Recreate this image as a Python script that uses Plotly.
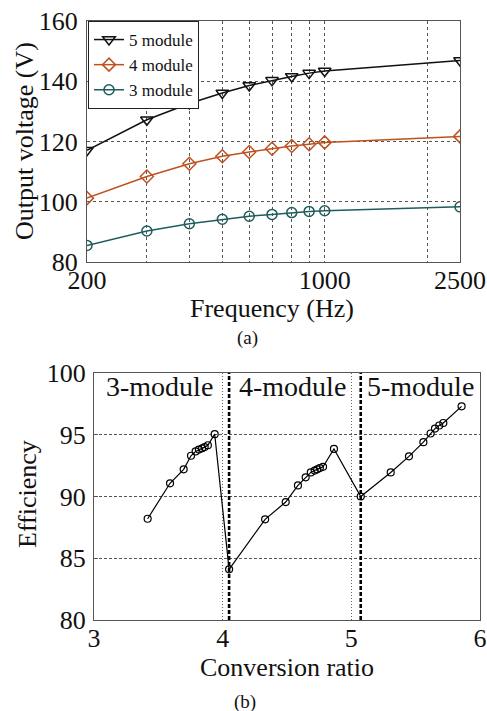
import math
import plotly.graph_objects as go

# ---- Top chart (a) data ----
freq = [200, 300, 400, 500, 600, 700, 800, 900, 1000, 2500]
v5 = [117.1, 127.2, 132.6, 136.1, 138.6, 140.3, 141.6, 142.7, 143.4, 146.9]
v4 = [101.2, 108.4, 112.6, 115.1, 116.5, 117.6, 118.5, 119.1, 119.7, 121.7]
v3 = [85.5, 90.3, 92.7, 94.2, 95.2, 95.8, 96.4, 96.8, 97.0, 98.3]
freq_ticks = [200, 1000, 2500]
freq_grid = [300, 400, 500, 600, 700, 800, 900, 2000]
volt_ticks = [80, 100, 120, 140, 160]

# ---- Bottom chart (b) data ----
ratio = [3.417, 3.591, 3.697, 3.754, 3.79, 3.815, 3.84, 3.86, 3.885, 3.938,
         4.05, 4.33, 4.49, 4.585, 4.645, 4.685, 4.715, 4.735, 4.755, 4.78, 4.865,
         5.073, 5.306, 5.448, 5.56, 5.616, 5.65, 5.683, 5.715, 5.857]
eff = [88.2, 91.07, 92.2, 93.3, 93.65, 93.8, 93.9, 94.0, 94.15, 95.05,
       84.1, 88.15, 89.55, 90.9, 91.55, 91.95, 92.1, 92.2, 92.3, 92.4, 93.85,
       90.0, 91.95, 93.25, 94.4, 95.1, 95.5, 95.75, 95.95, 97.3]
boundaries = [4.05, 5.073]
ratio_ticks = [3, 4, 5, 6]
eff_ticks = [80, 85, 90, 95, 100]
region_labels = ["3-module", "4-module", "5-module"]
region_x = [3.078, 4.11, 5.106]

FONT = "'Times New Roman', 'Liberation Serif', 'DejaVu Serif', serif"
W, H = 487, 711

fig = go.Figure()

series = [("5 module", v5, "#111111", "triangle-down-open", 11),
          ("4 module", v4, "#c0501e", "diamond-open", 10),
          ("3 module", v3, "#1f5c5c", "circle-open", 10)]
for name, vals, col, sym, sz in series:
    fig.add_trace(go.Scatter(
        x=freq, y=vals, name=name, mode="lines+markers",
        line=dict(color=col, width=1.5),
        marker=dict(symbol=sym, size=sz, color=col, line=dict(width=1.5, color=col)),
        xaxis="x", yaxis="y"))

fig.add_trace(go.Scatter(
    x=ratio, y=eff, mode="lines+markers", showlegend=False,
    line=dict(color="black", width=1.2),
    marker=dict(symbol="circle-open", size=7, color="black", line=dict(width=1.2)),
    xaxis="x2", yaxis="y2"))

for b in boundaries:
    fig.add_trace(go.Scatter(
        x=[b, b], y=[eff_ticks[0], eff_ticks[-1]], mode="lines", showlegend=False,
        line=dict(color="black", width=2.6, dash="4px,2px"),
        xaxis="x2", yaxis="y2"))


def px_x(p):
    return p / W


def px_y(p):
    return 1 - p / H


tick_font = dict(family=FONT, size=26, color="#111")
axis_common = dict(showline=True, mirror=True, linecolor="#555", linewidth=1,
                   zeroline=False, tickfont=tick_font, automargin=False)

fig.update_layout(
    width=W, height=H,
    margin=dict(l=0, r=0, t=0, b=0, pad=0, autoexpand=False),
    paper_bgcolor="white", plot_bgcolor="white",
    font=dict(family=FONT, color="#111"),
    showlegend=True,
    legend=dict(x=px_x(88), y=px_y(21), xanchor="left", yanchor="top",
                bordercolor="#222", borderwidth=1, bgcolor="white",
                font=dict(family=FONT, size=17, color="#111"),
                tracegroupgap=0, itemwidth=30),
    xaxis=dict(domain=[px_x(87), px_x(460)], anchor="y", type="log",
               range=[math.log10(freq[0]), math.log10(freq[-1])],
               tickvals=freq_ticks, ticktext=[str(t) for t in freq_ticks],
               showgrid=True, gridcolor="#555", griddash="dot", gridwidth=1,
               minor=dict(tickvals=freq_grid, showgrid=True, gridcolor="#555",
                          griddash="dot", gridwidth=1, ticks=""),
               ticks="", ticklabelstandoff=-5, **axis_common),
    yaxis=dict(domain=[px_y(262), px_y(21)], anchor="x",
               range=[volt_ticks[0], volt_ticks[-1]], tickvals=volt_ticks,
               showgrid=True, gridcolor="#555", griddash="dot", gridwidth=1,
               ticks="", ticklabelstandoff=3, **axis_common),
    xaxis2=dict(domain=[px_x(94), px_x(480)], anchor="y2",
                range=[ratio_ticks[0], ratio_ticks[-1]], tickvals=ratio_ticks,
                showgrid=True, gridcolor="#666", griddash="1px,2px", gridwidth=1,
                ticks="", ticklabelstandoff=-5, **axis_common),
    yaxis2=dict(domain=[px_y(620), px_y(373)], anchor="x2",
                range=[eff_ticks[0], eff_ticks[-1]], tickvals=eff_ticks,
                showgrid=True, gridcolor="#555", griddash="3px,2px", gridwidth=1,
                ticks="inside", ticklen=4, tickcolor="#555", ticklabelstandoff=2,
                **axis_common),
)

ann = []
title_font = dict(family=FONT, size=26, color="#111")


def label(text, x, y, size=26, angle=0):
    ann.append(dict(text=text, x=px_x(x), y=px_y(y), xref="paper", yref="paper",
                    xanchor="center", yanchor="middle", textangle=angle,
                    showarrow=False, font=dict(family=FONT, size=size, color="#111")))


label("Output voltage (V)", 24, 141, angle=-90)
label("Frequency (Hz)", 272, 308)
label("(a)", 247, 338, size=19)
label("Efficiency", 27, 494, angle=-90)
label("Conversion ratio", 287, 667)
label("(b)", 245, 702, size=19)
for lab, lx in zip(region_labels, region_x):
    ann.append(dict(text=lab, x=lx, y=98.9, xref="x2", yref="y2", xanchor="left",
                    yanchor="middle", showarrow=False,
                    font=dict(family=FONT, size=28, color="#111")))
fig.update_layout(annotations=ann)

fig.write_html("out.html")
